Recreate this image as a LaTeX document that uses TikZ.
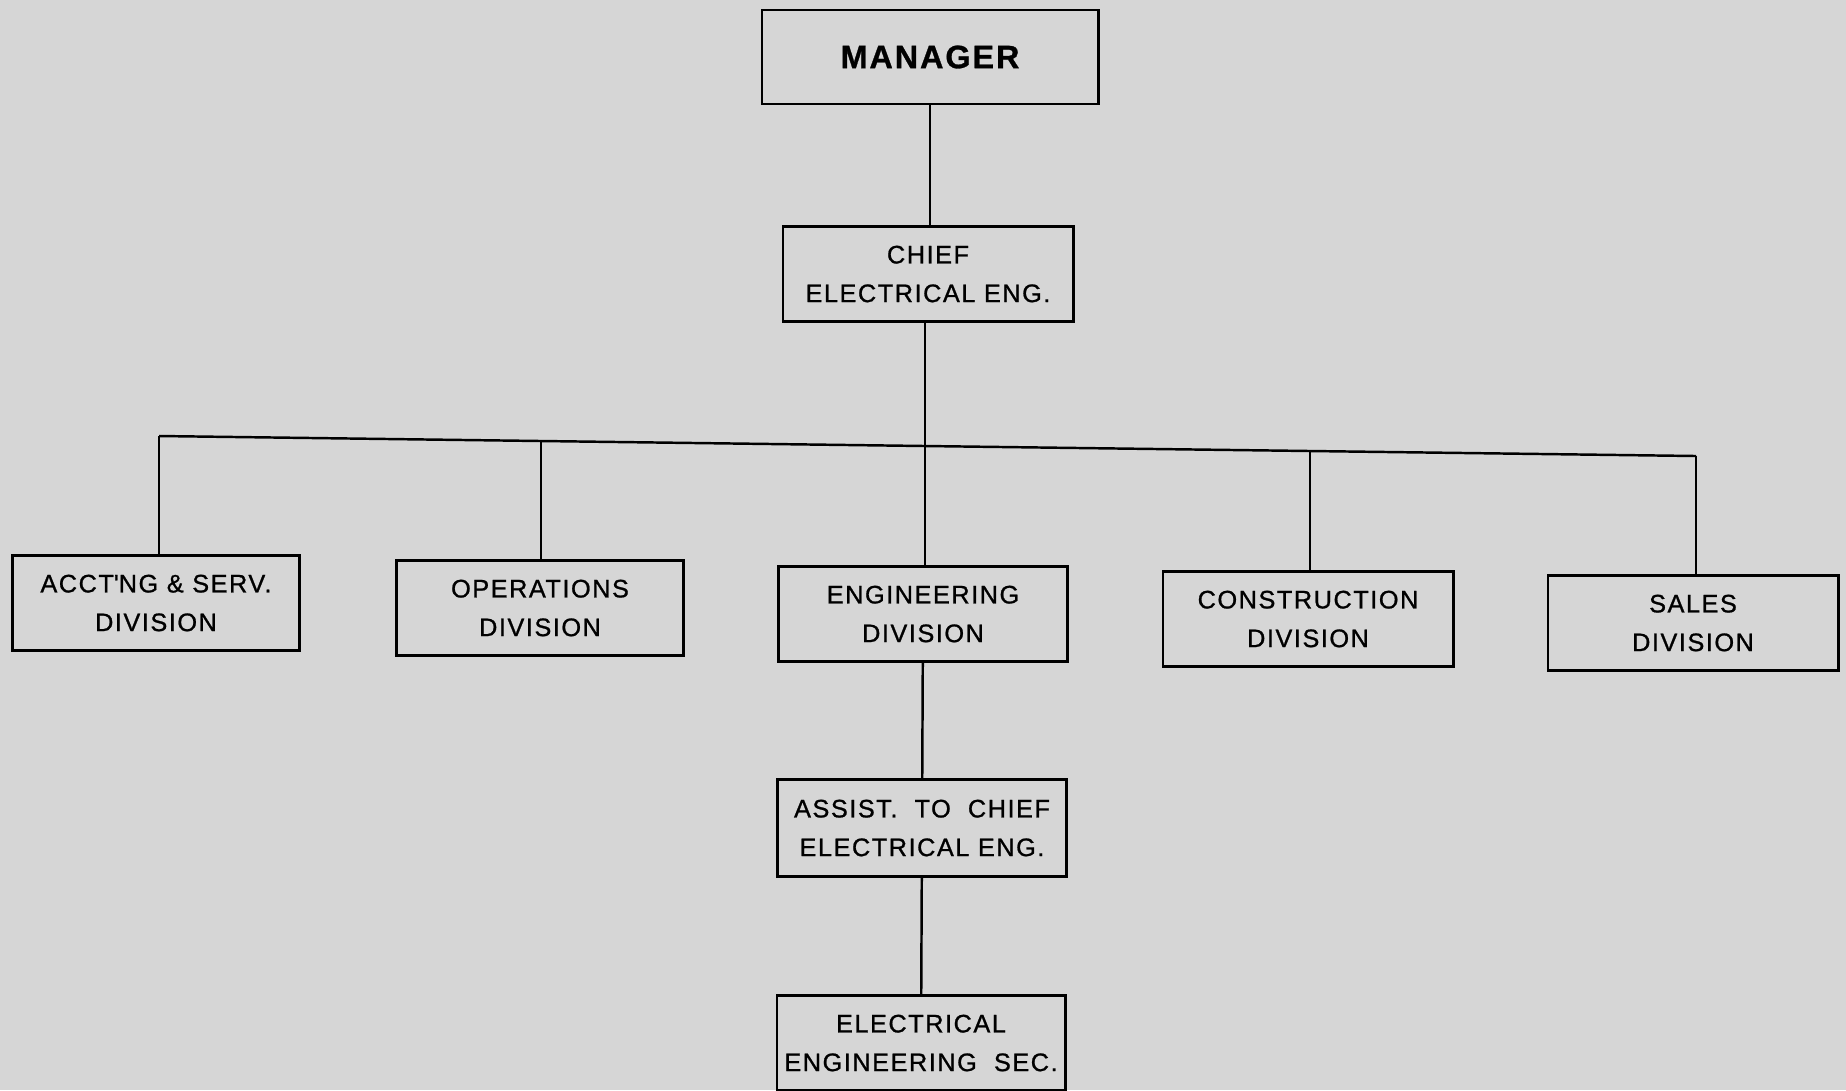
\documentclass[tikz,border=0pt]{standalone}
\usepackage{fontspec}
\setmainfont{Liberation Sans}[LetterSpace=6, FakeBold=0.9]
\definecolor{paper}{RGB}{214,214,214}
\tikzset{
  unit/.style = {draw, line width=0.8pt, inner sep=0pt, minimum width=2.89cm,
                 minimum height=0.95cm, align=center,
                 font=\fontsize{7.2}{11}\selectfont},
  link/.style = {line width=0.7pt}
}
\begin{document}
\begin{tikzpicture}[x=0.01cm, y=-0.01cm]
  \fill[paper] (0,0) rectangle (1846,1090);
  \useasboundingbox (0,0) rectangle (1846,1090);
  \node[unit, minimum width=3.36cm, minimum height=0.94cm,
        font=\fontsize{9.2}{11}\selectfont\bfseries] (manager) at (930,57)  {MANAGER};
  \node[unit, minimum width=2.90cm] (chief)   at (928,274)  {CHIEF\\ELECTRICAL ENG.};
  \node[unit, minimum width=2.87cm] (acct)    at (156,603)  {ACCT\textquotesingle NG \& SERV.\\DIVISION};
  \node[unit, minimum width=2.87cm] (ops)     at (540,608)  {OPERATIONS\\DIVISION};
  \node[unit] (eng)     at (923,614)  {ENGINEERING\\DIVISION};
  \node[unit, minimum width=2.90cm] (constr)  at (1308,619) {CONSTRUCTION\\DIVISION};
  \node[unit, minimum width=2.90cm] (sales)   at (1693,623) {SALES\\DIVISION};
  \node[unit, minimum height=0.97cm] (assist)  at (922,828)  {ASSIST.~ TO~ CHIEF\\ELECTRICAL ENG.};
  \node[unit, minimum width=2.88cm] (elecsec) at (921,1043) {ELECTRICAL\\ENGINEERING~ SEC.};

  \coordinate (b1) at (159,436);
  \coordinate (b2) at (541,441);
  \coordinate (b3) at (925,446);
  \coordinate (b4) at (1310,451);
  \coordinate (b5) at (1696,456);

  \draw[link] (manager.south) -- (manager.south |- chief.north);
  \draw[link] (chief.south -| b3) -- (b3);
  \draw[link] (b1) -- (b2) -- (b3) -- (b4) -- (b5);
  \draw[link] (b1) -- (b1 |- acct.north);
  \draw[link] (b2) -- (b2 |- ops.north);
  \draw[link] (b3) -- (b3 |- eng.north);
  \draw[link] (b4) -- (b4 |- constr.north);
  \draw[link] (b5) -- (b5 |- sales.north);
  \draw[link] (eng) -- (assist);
  \draw[link] (assist) -- (elecsec);
\end{tikzpicture}
\end{document}
